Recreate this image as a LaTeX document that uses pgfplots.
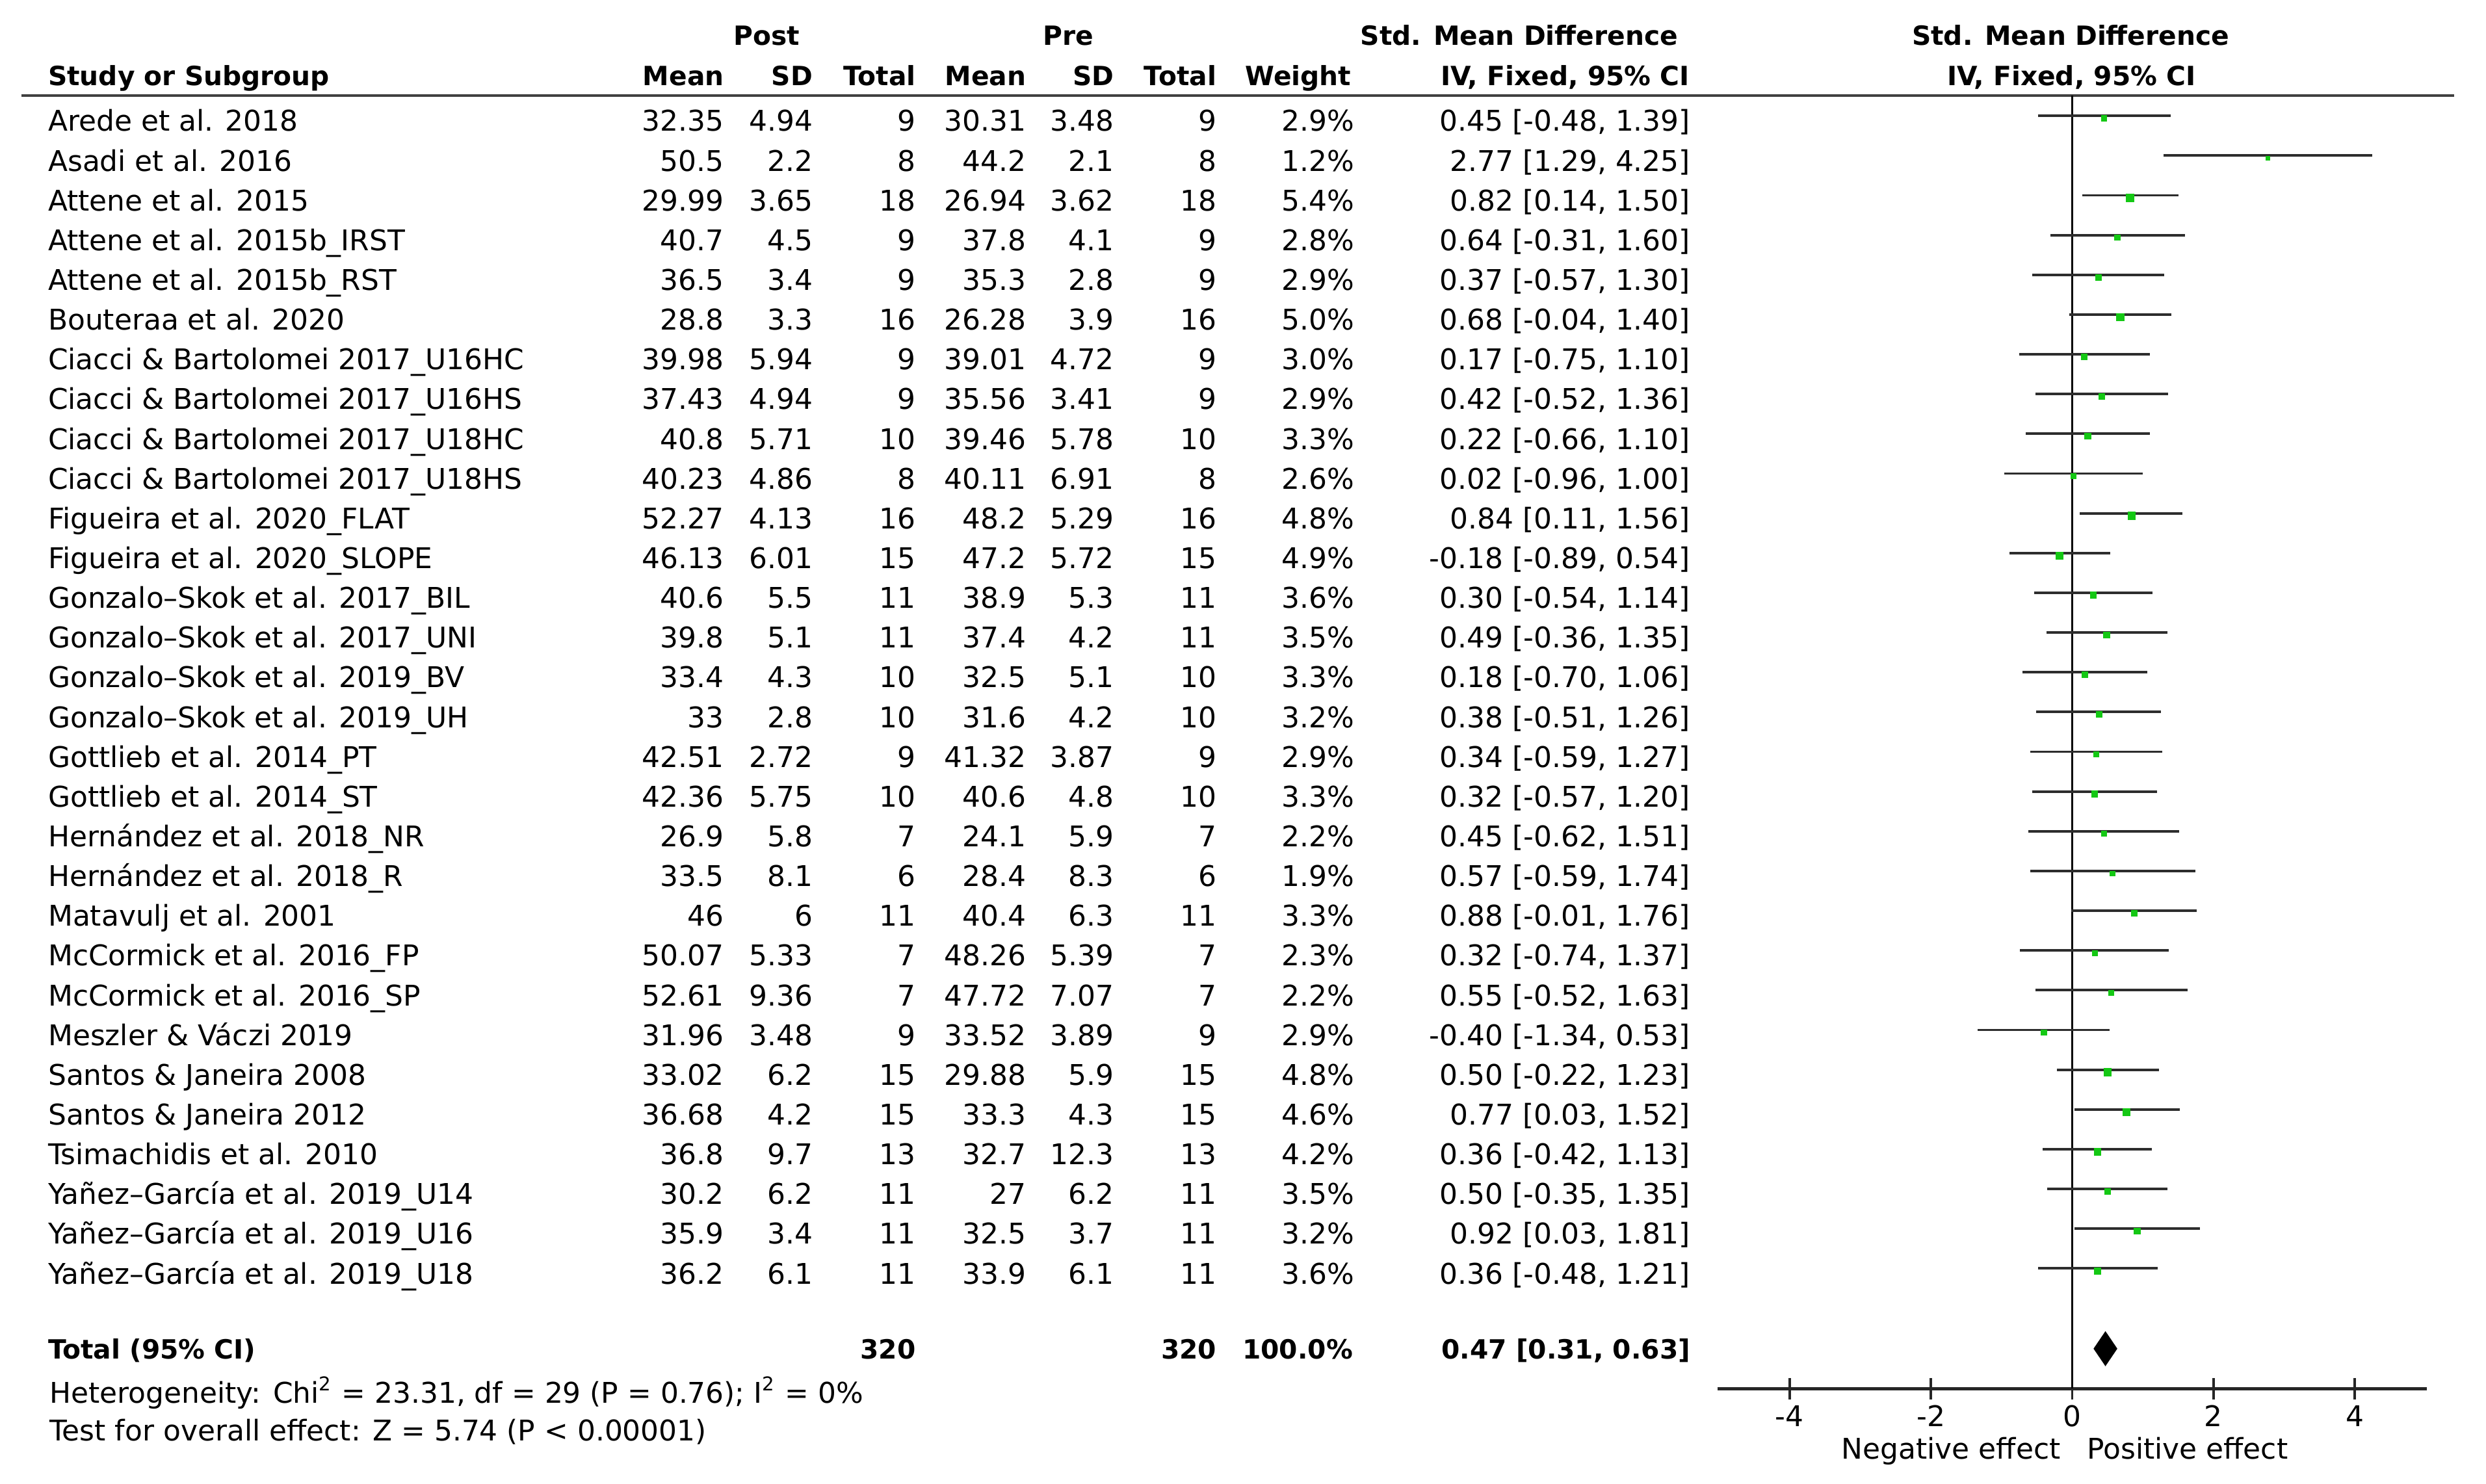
\documentclass[border=0pt]{standalone}
\usepackage{fontspec}
\setmainfont{DejaVu Sans}
\usepackage{pgfplots}
\usepackage{pgfplotstable}
\pgfplotsset{compat=1.18}
\definecolor{sqgreen}{RGB}{20,200,20}
\definecolor{cigray}{RGB}{45,45,45}
\newcommand\bfs{\fontsize{8.35pt}{10pt}\selectfont\bfseries}

\pgfplotstableread{
k smd lo hi w
1 0.45 -0.48 1.39 2.9
2 2.77 1.29 4.25 1.2
3 0.82 0.14 1.50 5.4
4 0.64 -0.31 1.60 2.8
5 0.37 -0.57 1.30 2.9
6 0.68 -0.04 1.40 5.0
7 0.17 -0.75 1.10 3.0
8 0.42 -0.52 1.36 2.9
9 0.22 -0.66 1.10 3.3
10 0.02 -0.96 1.00 2.6
11 0.84 0.11 1.56 4.8
12 -0.18 -0.89 0.54 4.9
13 0.30 -0.54 1.14 3.6
14 0.49 -0.36 1.35 3.5
15 0.18 -0.70 1.06 3.3
16 0.38 -0.51 1.26 3.2
17 0.34 -0.59 1.27 2.9
18 0.32 -0.57 1.20 3.3
19 0.45 -0.62 1.51 2.2
20 0.57 -0.59 1.74 1.9
21 0.88 -0.01 1.76 3.3
22 0.32 -0.74 1.37 2.3
23 0.55 -0.52 1.63 2.2
24 -0.40 -1.34 0.53 2.9
25 0.50 -0.22 1.23 4.8
26 0.77 0.03 1.52 4.6
27 0.36 -0.42 1.13 4.2
28 0.50 -0.35 1.35 3.5
29 0.92 0.03 1.81 3.2
30 0.36 -0.48 1.21 3.6
}\smdtable

% row: k, name, post mean, post sd, n, pre mean, pre sd, weight, smd [ci]
\newcommand\studyrow[9]{%
  \pgfmathsetmacro\by{82.8+(#1-1)*25.07}%
  \node[anchor=base west] at (30,\by) {#2};
  \node[anchor=base east] at (457,\by) {#3};
  \node[anchor=base east] at (513,\by) {#4};
  \node[anchor=base east] at (578,\by) {#5};
  \node[anchor=base east] at (647.5,\by) {#6};
  \node[anchor=base east] at (703,\by) {#7};
  \node[anchor=base east] at (767.6,\by) {#5};
  \node[anchor=base east] at (854.6,\by) {#8\%};
  \node[anchor=base east] at (1066.5,\by) {#9};
}

\begin{document}
\fontsize{9pt}{11pt}\selectfont
\begin{tikzpicture}
\useasboundingbox (0pt,0pt) rectangle (784pt,-468pt);

\begin{scope}[x=0.5pt, y=-0.5pt, nodes={inner sep=0pt, text=black}]
  % header row 1
  \node[anchor=base, font=\bfs] at (483.7,28.7) {Post};
  \node[anchor=base, font=\bfs] at (674,28.7) {Pre};
  \node[anchor=base east, font=\bfs] at (1058.7,28.7) {Std. Mean Difference};
  \node[anchor=base, font=\bfs] at (1306,28.7) {Std. Mean Difference};
  % header row 2
  \node[anchor=base west, font=\bfs] at (30,54) {Study or Subgroup};
  \node[anchor=base east, font=\bfs] at (457,54) {Mean};
  \node[anchor=base east, font=\bfs] at (513,54) {SD};
  \node[anchor=base east, font=\bfs] at (578,54) {Total};
  \node[anchor=base east, font=\bfs] at (647.5,54) {Mean};
  \node[anchor=base east, font=\bfs] at (703,54) {SD};
  \node[anchor=base east, font=\bfs] at (767.6,54) {Total};
  \node[anchor=base east, font=\bfs] at (852.6,54) {Weight};
  \node[anchor=base east, font=\bfs] at (1066,54) {IV, Fixed, 95\% CI};
  \node[anchor=base, font=\bfs] at (1306.5,54) {IV, Fixed, 95\% CI};
  % header rule
  \draw[black!75, line width=0.85pt] (13.5,60.4) -- (1548,60.4);

  \studyrow{1}{Arede et al. 2018}{32.35}{4.94}{9}{30.31}{3.48}{2.9}{0.45 [-0.48, 1.39]}
  \studyrow{2}{Asadi et al. 2016}{50.5}{2.2}{8}{44.2}{2.1}{1.2}{2.77 [1.29, 4.25]}
  \studyrow{3}{Attene et al. 2015}{29.99}{3.65}{18}{26.94}{3.62}{5.4}{0.82 [0.14, 1.50]}
  \studyrow{4}{Attene et al. 2015b\_IRST}{40.7}{4.5}{9}{37.8}{4.1}{2.8}{0.64 [-0.31, 1.60]}
  \studyrow{5}{Attene et al. 2015b\_RST}{36.5}{3.4}{9}{35.3}{2.8}{2.9}{0.37 [-0.57, 1.30]}
  \studyrow{6}{Bouteraa et al. 2020}{28.8}{3.3}{16}{26.28}{3.9}{5.0}{0.68 [-0.04, 1.40]}
  \studyrow{7}{Ciacci \& Bartolomei 2017\_U16HC}{39.98}{5.94}{9}{39.01}{4.72}{3.0}{0.17 [-0.75, 1.10]}
  \studyrow{8}{Ciacci \& Bartolomei 2017\_U16HS}{37.43}{4.94}{9}{35.56}{3.41}{2.9}{0.42 [-0.52, 1.36]}
  \studyrow{9}{Ciacci \& Bartolomei 2017\_U18HC}{40.8}{5.71}{10}{39.46}{5.78}{3.3}{0.22 [-0.66, 1.10]}
  \studyrow{10}{Ciacci \& Bartolomei 2017\_U18HS}{40.23}{4.86}{8}{40.11}{6.91}{2.6}{0.02 [-0.96, 1.00]}
  \studyrow{11}{Figueira et al. 2020\_FLAT}{52.27}{4.13}{16}{48.2}{5.29}{4.8}{0.84 [0.11, 1.56]}
  \studyrow{12}{Figueira et al. 2020\_SLOPE}{46.13}{6.01}{15}{47.2}{5.72}{4.9}{-0.18 [-0.89, 0.54]}
  \studyrow{13}{Gonzalo–Skok et al. 2017\_BIL}{40.6}{5.5}{11}{38.9}{5.3}{3.6}{0.30 [-0.54, 1.14]}
  \studyrow{14}{Gonzalo–Skok et al. 2017\_UNI}{39.8}{5.1}{11}{37.4}{4.2}{3.5}{0.49 [-0.36, 1.35]}
  \studyrow{15}{Gonzalo–Skok et al. 2019\_BV}{33.4}{4.3}{10}{32.5}{5.1}{3.3}{0.18 [-0.70, 1.06]}
  \studyrow{16}{Gonzalo–Skok et al. 2019\_UH}{33}{2.8}{10}{31.6}{4.2}{3.2}{0.38 [-0.51, 1.26]}
  \studyrow{17}{Gottlieb et al. 2014\_PT}{42.51}{2.72}{9}{41.32}{3.87}{2.9}{0.34 [-0.59, 1.27]}
  \studyrow{18}{Gottlieb et al. 2014\_ST}{42.36}{5.75}{10}{40.6}{4.8}{3.3}{0.32 [-0.57, 1.20]}
  \studyrow{19}{Hernández et al. 2018\_NR}{26.9}{5.8}{7}{24.1}{5.9}{2.2}{0.45 [-0.62, 1.51]}
  \studyrow{20}{Hernández et al. 2018\_R}{33.5}{8.1}{6}{28.4}{8.3}{1.9}{0.57 [-0.59, 1.74]}
  \studyrow{21}{Matavulj et al. 2001}{46}{6}{11}{40.4}{6.3}{3.3}{0.88 [-0.01, 1.76]}
  \studyrow{22}{McCormick et al. 2016\_FP}{50.07}{5.33}{7}{48.26}{5.39}{2.3}{0.32 [-0.74, 1.37]}
  \studyrow{23}{McCormick et al. 2016\_SP}{52.61}{9.36}{7}{47.72}{7.07}{2.2}{0.55 [-0.52, 1.63]}
  \studyrow{24}{Meszler \& Váczi 2019}{31.96}{3.48}{9}{33.52}{3.89}{2.9}{-0.40 [-1.34, 0.53]}
  \studyrow{25}{Santos \& Janeira 2008}{33.02}{6.2}{15}{29.88}{5.9}{4.8}{0.50 [-0.22, 1.23]}
  \studyrow{26}{Santos \& Janeira 2012}{36.68}{4.2}{15}{33.3}{4.3}{4.6}{0.77 [0.03, 1.52]}
  \studyrow{27}{Tsimachidis et al. 2010}{36.8}{9.7}{13}{32.7}{12.3}{4.2}{0.36 [-0.42, 1.13]}
  \studyrow{28}{Yañez–García et al. 2019\_U14}{30.2}{6.2}{11}{27}{6.2}{3.5}{0.50 [-0.35, 1.35]}
  \studyrow{29}{Yañez–García et al. 2019\_U16}{35.9}{3.4}{11}{32.5}{3.7}{3.2}{0.92 [0.03, 1.81]}
  \studyrow{30}{Yañez–García et al. 2019\_U18}{36.2}{6.1}{11}{33.9}{6.1}{3.6}{0.36 [-0.48, 1.21]}

  % total row
  \node[anchor=base west, font=\bfs] at (30,857) {Total (95\% CI)};
  \node[anchor=base east, font=\bfs] at (578,857) {320};
  \node[anchor=base east, font=\bfs] at (767.6,857) {320};
  \node[anchor=base east, font=\bfs] at (853.6,857) {100.0\%};
  \node[anchor=base east, font=\bfs] at (1066.5,857) {0.47 [0.31, 0.63]};
  \node[anchor=base west] at (31,885) {Heterogeneity: Chi\textsuperscript{2} = 23.31, df = 29 (P = 0.76); I\textsuperscript{2} = 0\%};
  \node[anchor=base west] at (31,909) {Test for overall effect: Z = 5.74 (P < 0.00001)};
  \node[anchor=base east] at (1300,920.5) {Negative effect};
  \node[anchor=base west] at (1316,920.5) {Positive effect};
\end{scope}

\begin{axis}[
  at={(541.65pt,-438pt)}, anchor=south west,
  scale only axis, width=223.7pt, height=407.8pt,
  xmin=-5.02, xmax=5.02, ymin=-33.027, ymax=-0.4934,
  axis x line*=bottom, axis y line=none,
  xtick={-4,-2,0,2,4}, ytick=\empty,
  tick align=center, major tick length=6.8pt,
  every tick/.style={black!85, line width=0.8pt},
  axis line style={black!85, line width=0.9pt},
  xticklabel style={anchor=base, yshift=-8.5pt, inner sep=0pt, font=\fontsize{9pt}{11pt}\selectfont},
  /pgf/number format/assume math mode=true,
  clip=false,
]
% line of no effect
\addplot[black, line width=0.8pt] coordinates {(0,-0.4934) (0,-33.027)};
% confidence intervals (marks invisible, only the error bars show)
\addplot[only marks, mark=*, cigray,
  mark options={draw opacity=0, fill opacity=0},
  error bars/.cd, x dir=both, x explicit,
  error mark=none, error bar style={draw=cigray, draw opacity=1, line width=0.8pt}]
  table[x=smd, y expr=-\thisrow{k},
        x error plus expr=\thisrow{hi}-\thisrow{smd},
        x error minus expr=\thisrow{smd}-\thisrow{lo}] {\smdtable};
% study weights (squares)
\addplot[scatter, only marks, mark=square*,
  scatter/use mapped color={draw=sqgreen, fill=sqgreen},
  mark options={line width=0.3pt},
  visualization depends on={0.5*sqrt(\thisrow{w}) \as \msz},
  scatter/@pre marker code/.append style={/tikz/mark size=\msz}]
  table[x=smd, y expr=-\thisrow{k}-0.064] {\smdtable};
% pooled estimate diamond
\addplot[fill=black, draw=black, line width=0.3pt] coordinates {(0.31,-32.02) (0.47,-31.60) (0.63,-32.02) (0.47,-32.44)} --cycle;
\end{axis}
\end{tikzpicture}
\end{document}
